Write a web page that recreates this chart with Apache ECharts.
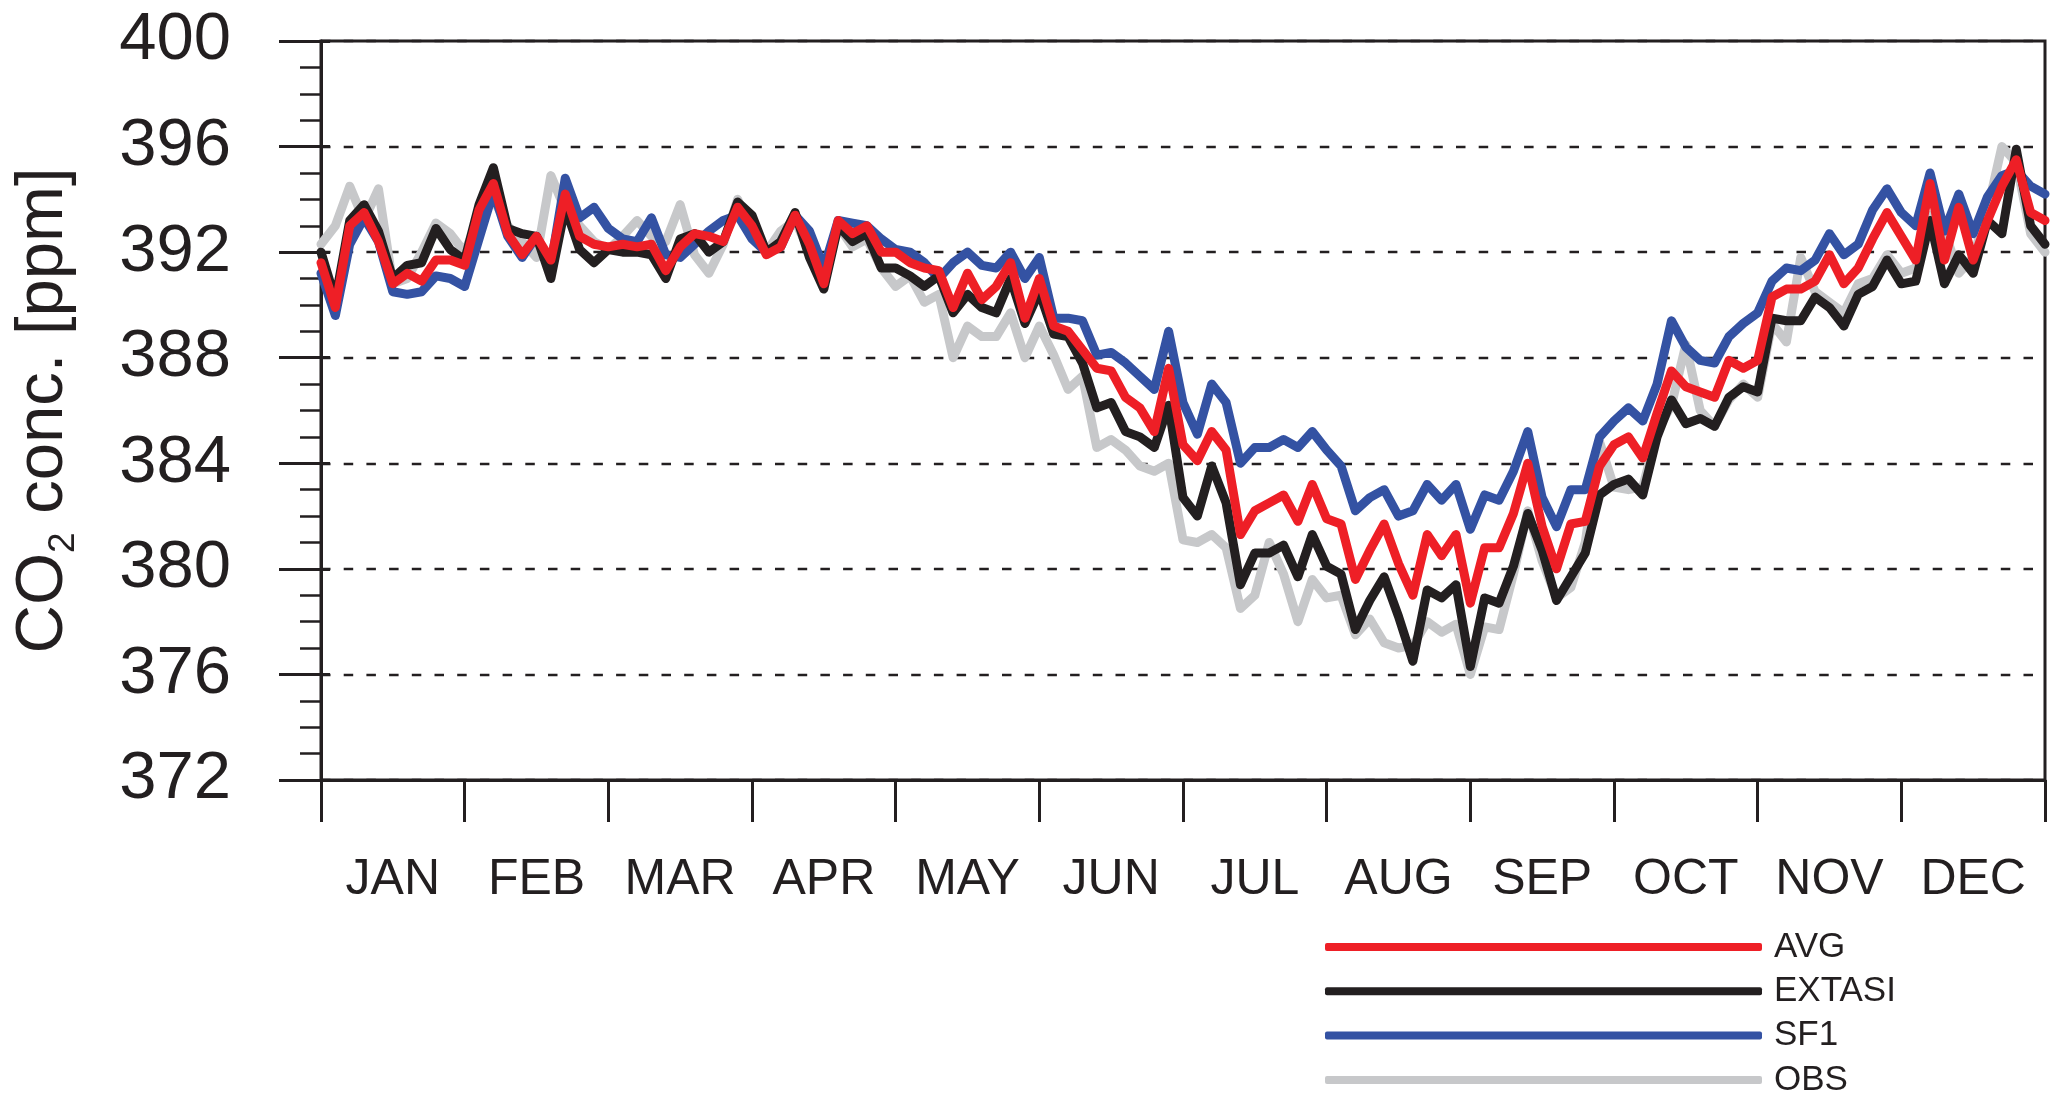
<!DOCTYPE html>
<html>
<head>
<meta charset="utf-8">
<script src="https://cdn.jsdelivr.net/npm/echarts@6/dist/echarts.min.js"></script>
<style>
html,body{margin:0;padding:0;background:#fff;}
#chart{width:2067px;height:1111px;}
</style>
</head>
<body>
<div id="chart"></div>
<script>
// Month labels (x axis), y ticks
const monthLabels = ['JAN','FEB','MAR','APR','MAY','JUN','JUL','AUG','SEP','OCT','NOV','DEC'];
const yMin = 372, yMax = 400, yStep = 4;

// sample positions: fraction of year in months, every 0.1 month (0 .. 12)
const tMonths = Array.from({length: 121}, (_, i) => +(i / 10).toFixed(1));

// CO2 concentration [ppm], one value per 0.1 month
const avg = [
391.6,389.9,393.0,393.5,392.4,390.8,391.2,390.9,391.7,391.7,
391.5,393.6,394.6,392.7,391.9,392.6,391.7,394.2,392.6,392.3,
392.2,392.3,392.2,392.3,391.3,392.2,392.7,392.6,392.4,393.7,
393.0,391.9,392.2,393.4,392.3,390.8,393.2,392.7,393.0,392.0,
392.0,391.6,391.4,391.3,389.9,391.2,390.2,390.7,391.6,389.5,
391.0,389.2,389.0,388.3,387.6,387.5,386.5,386.1,385.2,387.6,
384.7,384.1,385.2,384.5,381.3,382.2,382.5,382.8,381.8,383.2,
381.9,381.7,379.6,380.7,381.7,380.2,379.0,381.3,380.5,381.3,
378.7,380.8,380.8,382.1,384.0,381.6,380.0,381.7,381.8,383.9,
384.7,385.0,384.2,385.9,387.5,386.9,386.7,386.5,387.9,387.6,
387.9,390.3,390.6,390.6,390.9,391.9,390.8,391.4,392.5,393.5,
392.6,391.7,394.6,391.7,393.7,391.7,393.2,394.5,395.5,393.5,
393.2];

const extasi = [
392.0,390.2,393.2,393.8,392.8,391.0,391.5,391.6,392.9,392.1,
391.7,393.8,395.2,392.9,392.7,392.6,391.0,393.7,392.1,391.6,
392.1,392.0,392.0,391.9,391.0,392.5,392.7,392.0,392.4,393.9,
393.4,392.0,392.4,393.5,391.8,390.6,393.0,392.4,392.7,391.4,
391.4,391.1,390.7,391.1,389.7,390.4,389.9,389.7,391.0,389.3,
390.5,388.9,388.8,387.8,386.1,386.3,385.2,385.0,384.6,386.2,
382.7,382.0,383.9,382.5,379.4,380.6,380.6,380.9,379.7,381.3,
380.1,379.8,377.7,378.8,379.7,378.2,376.5,379.2,378.9,379.4,
376.3,378.9,378.7,380.1,382.1,380.7,378.8,379.7,380.6,382.8,
383.2,383.4,382.8,385.0,386.4,385.5,385.7,385.4,386.5,386.9,
386.7,389.5,389.4,389.4,390.3,389.9,389.2,390.4,390.7,391.7,
390.8,390.9,393.2,390.8,391.9,391.2,393.2,392.7,395.9,393.0,
392.3];

const sf1 = [
391.2,389.6,392.3,393.3,392.4,390.5,390.4,390.5,391.1,391.0,
390.7,392.5,394.3,392.6,391.8,392.6,391.5,394.8,393.3,393.7,
392.9,392.5,392.4,393.3,391.9,391.8,392.3,392.8,393.2,393.4,
392.5,392.0,392.2,393.4,392.8,391.4,393.2,393.1,393.0,392.5,
392.1,392.0,391.6,391.0,391.6,392.0,391.5,391.4,392.0,391.0,
391.8,389.5,389.5,389.4,388.1,388.2,387.8,387.3,386.8,389.0,
386.3,385.1,387.0,386.3,384.0,384.6,384.6,384.9,384.6,385.2,
384.5,383.9,382.2,382.7,383.0,382.0,382.2,383.2,382.6,383.2,
381.5,382.8,382.6,383.7,385.2,382.7,381.6,383.0,383.0,385.0,
385.6,386.1,385.6,387.0,389.4,388.4,387.9,387.8,388.8,389.3,
389.7,390.9,391.4,391.3,391.7,392.7,391.9,392.3,393.6,394.4,
393.5,393.0,395.0,392.8,394.2,392.7,394.1,394.9,395.1,394.5,
394.2];

const obs = [
392.3,393.0,394.5,393.2,394.4,390.8,391.0,392.0,393.1,392.7,
392.0,393.3,394.0,393.0,392.4,391.8,394.9,393.6,393.0,392.4,
392.1,392.6,393.2,392.6,392.4,393.8,391.9,391.2,392.3,394.0,
392.8,392.0,392.8,393.2,392.0,390.8,393.0,392.2,392.5,391.4,
390.7,391.1,390.1,390.4,388.0,389.2,388.8,388.8,389.7,388.0,
389.2,388.1,386.8,387.3,384.6,384.9,384.5,383.9,383.7,384.0,
381.1,381.0,381.3,380.8,378.5,379.0,381.0,379.8,378.0,379.6,
378.9,379.0,377.5,378.1,377.2,377.0,377.1,378.0,377.6,377.9,
376.0,377.8,377.7,379.8,382.2,380.3,378.9,379.3,381.0,384.8,
383.1,383.0,383.1,385.2,386.2,388.5,386.0,385.4,386.4,387.0,
386.5,389.3,388.6,391.8,390.5,390.1,389.7,390.8,391.0,391.9,
391.2,391.4,393.4,392.8,391.2,391.8,393.6,396.0,395.4,392.7,
392.0];

const FONT = '"Liberation Sans", Arial, Helvetica, sans-serif';
const INK = '#231F20';

function pairs(vals) { return tMonths.map((t, i) => [t, vals[i]]); }

function lineSeries(name, vals, color) {
  return {
    name: name, type: 'line', data: pairs(vals),
    xAxisIndex: 0, yAxisIndex: 0,
    showSymbol: false, symbol: 'none', smooth: false,
    lineStyle: { color: color, width: 9, cap: 'round', join: 'round' },
    itemStyle: { color: color },
    emphasis: { disabled: true },
    animation: false
  };
}

const chart = echarts.init(document.getElementById('chart'), null, { renderer: 'canvas' });
chart.setOption({
  backgroundColor: '#fff',
  animation: false,
  grid: {
    left: 321, right: 22, top: 41, bottom: 331,
    show: true, borderColor: INK, borderWidth: 3, backgroundColor: 'transparent'
  },
  legend: {
    data: ['AVG', 'EXTASI', 'SF1', 'OBS'],
    orient: 'vertical',
    left: 1325, top: 929, padding: 0,
    itemWidth: 437, itemHeight: 8, itemGap: 8.3,
    icon: 'roundRect',
    selectedMode: false,
    textStyle: { fontFamily: FONT, fontSize: 35, color: INK, lineHeight: 36, padding: [0, 0, 0, 7] }
  },
  xAxis: [
    {
      type: 'value', min: 0, max: 12, interval: 1,
      position: 'bottom',
      axisLine: { show: true, onZero: false, lineStyle: { color: INK, width: 3 } },
      axisTick: { show: true, length: 42, lineStyle: { color: INK, width: 3 } },
      axisLabel: { show: false },
      splitLine: { show: false }
    },
    {
      type: 'category', data: monthLabels, boundaryGap: true,
      position: 'bottom',
      axisLine: { show: false }, axisTick: { show: false },
      axisLabel: { interval: 0, hideOverlap: false, fontFamily: FONT, fontSize: 50, color: INK, margin: 75 },
      splitLine: { show: false }
    }
  ],
  yAxis: [
    {
      type: 'value', min: yMin, max: yMax, interval: yStep,
      position: 'left',
      name: '{a|CO}{b|2}{a| conc. [ppm]}',
      nameLocation: 'middle', nameGap: 239,
      nameTextStyle: {
        rich: {
          a: { fontFamily: FONT, fontSize: 67, color: INK, lineHeight: 76 },
          b: { fontFamily: FONT, fontSize: 37, color: INK, lineHeight: 40, verticalAlign: 'bottom' }
        }
      },
      axisLine: { show: true, lineStyle: { color: INK, width: 3 } },
      axisTick: { show: true, length: 42, lineStyle: { color: INK, width: 3 } },
      minorTick: { show: true, splitNumber: 4, length: 21, lineStyle: { color: INK, width: 2.5 } },
      axisLabel: { fontFamily: FONT, fontSize: 67, color: INK, margin: 90 },
      splitLine: { show: true, lineStyle: { color: INK, width: 2.3, type: [9.5, 13.2] } }
    },
    {
      type: 'value', min: yMin, max: yMax, interval: yStep,
      position: 'left',
      axisLine: { show: false },
      axisTick: { show: true, inside: true, length: 9, lineStyle: { color: INK, width: 3 } },
      axisLabel: { show: false },
      splitLine: { show: false }
    }
  ],
  series: [
    lineSeries('OBS', obs, '#C7C8CA'),
    lineSeries('SF1', sf1, '#3452A3'),
    lineSeries('EXTASI', extasi, INK),
    lineSeries('AVG', avg, '#EE1F26')
  ]
});
</script>
</body>
</html>
